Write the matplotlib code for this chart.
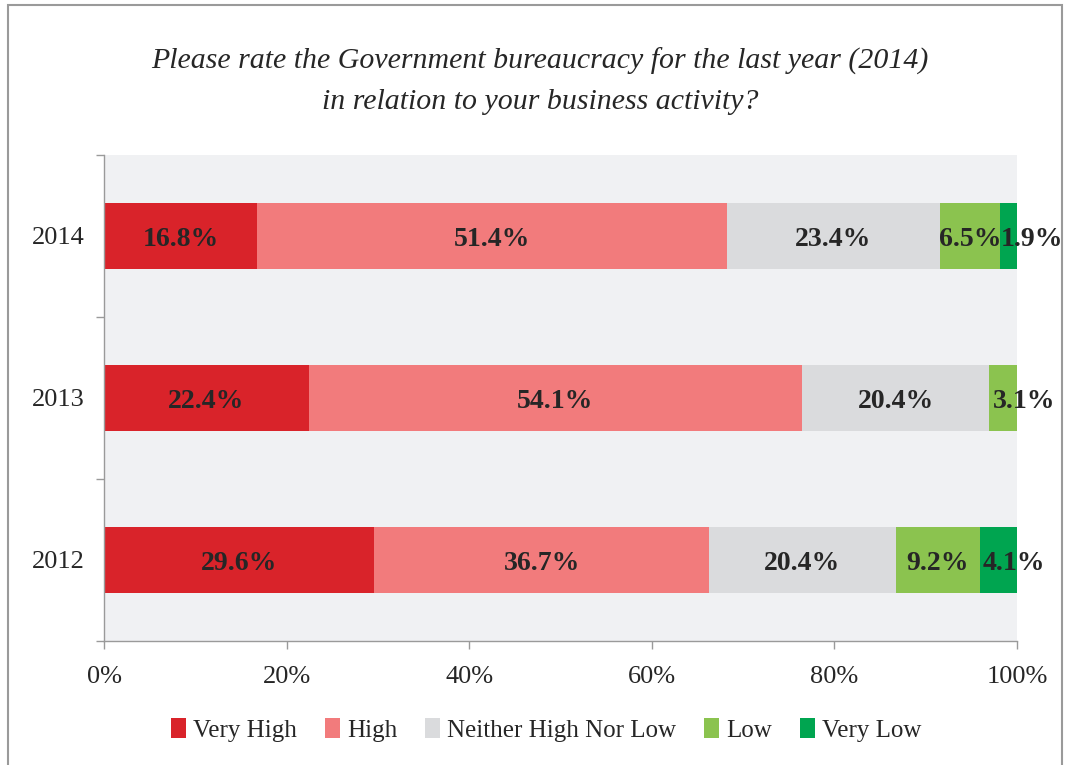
#!/usr/bin/env python3
"""Stacked horizontal bars: rating of government bureaucracy by year."""

import matplotlib

matplotlib.use("Agg")
import matplotlib.pyplot as plt
from matplotlib.patches import Rectangle

years = ["2012", "2013", "2014"]
categories = ["Very High", "High", "Neither High Nor Low", "Low", "Very Low"]
colors = ["#D9232A", "#F27B7C", "#DADBDD", "#8BC34F", "#00A550"]

# shares per category, ordered as years
very_high = [29.6, 22.4, 16.8]
high = [36.7, 54.1, 51.4]
neither = [20.4, 20.4, 23.4]
low = [9.2, 3.1, 6.5]
very_low = [4.1, 0.0, 1.9]

series = [very_high, high, neither, low, very_low]

# the thin right-most segments get their label nudged right (points)
end_nudge = [11, 15, 17]

plt.rcParams["font.family"] = ["Liberation Serif", "DejaVu Serif"]

fig = plt.figure(figsize=(10.7, 7.65), dpi=100)
W, H = 1070, 765
ax = fig.add_axes([104 / W, 1 - 641 / H, (1017 - 104) / W, (641 - 155) / H])
ax.set_facecolor("#F0F1F3")

# outer frame around the chart
fig.patches.append(Rectangle((8 / W, -0.1), (1062 - 8) / W, 1.1 - 5 / H,
                             transform=fig.transFigure, fill=False,
                             edgecolor="#9A9A9A", linewidth=1.5))

ypos = list(range(len(years)))
left = [0.0] * len(years)
for k, (name, vals, col) in enumerate(zip(categories, series, colors)):
    ax.barh(ypos, vals, left=left, height=0.405, color=col, label=name)
    for i, (y, v, l) in enumerate(zip(ypos, vals, left)):
        if v <= 0:
            continue
        last = all(s[i] == 0 for s in series[k + 1:])
        dx = end_nudge[i] if last and v < 5 else 0
        ax.annotate(f"{v:.1f}%", (l + v / 2, y), xytext=(dx, 0),
                    textcoords="offset points", ha="center",
                    va="center_baseline", fontsize=20, fontweight="bold",
                    color="#262626")
    left = [a + b for a, b in zip(left, vals)]

ax.set_xlim(0, 100)
ax.set_ylim(-0.5, 2.5)
ax.set_xticks([0, 20, 40, 60, 80, 100])
ax.set_xticklabels(["0%", "20%", "40%", "60%", "80%", "100%"])
ax.set_yticks(ypos)
ax.set_yticklabels(years)
ax.set_yticks([-0.5, 0.5, 1.5, 2.5], minor=True)
ax.tick_params(axis="y", which="major", length=0, pad=14, labelsize=19, labelcolor="#262626")
ax.tick_params(axis="y", which="minor", length=6, color="#9A9A9A", width=1)
ax.tick_params(axis="x", length=6, color="#9A9A9A", width=1, pad=12,
               labelsize=19, labelcolor="#262626")
for side in ["top", "right"]:
    ax.spines[side].set_visible(False)
for side in ["left", "bottom"]:
    ax.spines[side].set_color("#9A9A9A")
    ax.spines[side].set_linewidth(1)

fig.text(540 / W, 1 - 81 / H,
         "Please rate the Government bureaucracy for the last year (2014)\n"
         "in relation to your business activity?",
         ha="center", va="center", fontsize=21.5, style="italic",
         color="#262626", linespacing=1.7)

fig.legend(loc="center", bbox_to_anchor=(546 / W, 1 - 730 / H), ncol=5,
           frameon=False, fontsize=18, handlelength=0.6, handleheight=0.8,
           handletextpad=0.3, columnspacing=1.1, labelcolor="#262626")

fig.savefig("out.png", dpi=100)
